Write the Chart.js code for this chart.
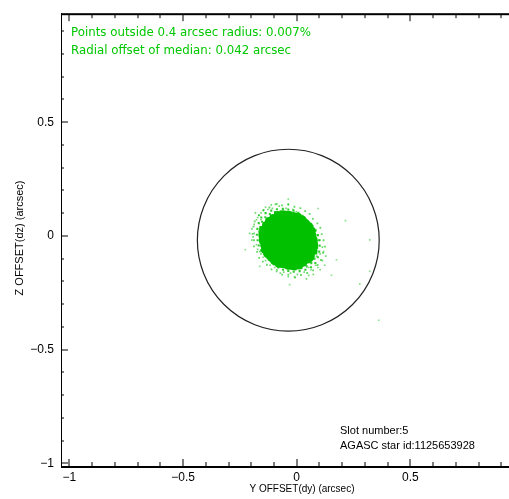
<!DOCTYPE html>
<html><head><meta charset="utf-8">
<script src="https://cdn.jsdelivr.net/npm/chart.js@4.4.1/dist/chart.umd.min.js"></script>
<style>html,body{margin:0;padding:0;overflow:hidden;background:#fff;width:509px;height:499px}</style>
</head><body>
<canvas id="c" width="540" height="499" style="display:block"></canvas>
<script>
// Solid interior of the centroid cloud (arcsec)
const coreCloud = [
  [-0.065,0.075],[-0.037,0.072],[-0.010,0.068],
  [-0.107,0.051],[-0.082,0.051],[-0.047,0.051],[-0.017,0.051],[0.010,0.045],
  [-0.117,0.016],[-0.082,0.016],[-0.047,0.016],[-0.012,0.016],[0.018,0.016],[0.045,0.010],
  [-0.122,-0.019],[-0.087,-0.019],[-0.052,-0.019],[-0.017,-0.019],[0.018,-0.019],[0.048,-0.019],
  [-0.112,-0.054],[-0.077,-0.054],[-0.042,-0.054],[-0.007,-0.054],[0.028,-0.054],[0.052,-0.060],
  [-0.100,-0.085],[-0.077,-0.089],[-0.042,-0.089],[-0.007,-0.089],[0.023,-0.089],[0.048,-0.089],
  [-0.065,-0.110],[-0.037,-0.112],[-0.010,-0.112],[0.015,-0.108]
];
// Outline of the solid region
const coreEdge = [
  [0.075,-0.019],[0.069,0.002],[0.066,0.023],[0.054,0.042],[0.039,0.057],[0.024,0.072],[0.005,0.084],[-0.016,0.087],
  [-0.037,0.093],[-0.060,0.095],[-0.083,0.092],[-0.103,0.079],[-0.122,0.066],[-0.135,0.047],[-0.148,0.027],[-0.151,0.004],
  [-0.149,-0.019],[-0.143,-0.040],[-0.140,-0.061],[-0.128,-0.080],[-0.113,-0.095],[-0.098,-0.110],[-0.079,-0.122],[-0.058,-0.125],
  [-0.037,-0.131],[-0.014,-0.133],[0.009,-0.130],[0.029,-0.117],[0.048,-0.104],[0.061,-0.085],[0.074,-0.065],[0.077,-0.042]
];
// Dense fuzzy fringe just outside the solid region
const fringePoints = [
  [0.098,-0.019],[0.093,0.004],[0.083,0.025],[0.070,0.043],[0.055,0.058],[0.040,0.073],[0.025,0.088],[0.007,0.101],
  [-0.014,0.111],[-0.037,0.116],[-0.061,0.119],[-0.087,0.117],[-0.112,0.111],[-0.137,0.100],[-0.156,0.081],[-0.167,0.056],
  [-0.173,0.031],[-0.175,0.005],[-0.172,-0.019],[-0.167,-0.042],[-0.157,-0.063],[-0.144,-0.081],[-0.129,-0.096],[-0.114,-0.111],
  [-0.099,-0.126],[-0.081,-0.139],[-0.060,-0.149],[-0.037,-0.154],[-0.013,-0.157],[0.013,-0.155],[0.038,-0.149],[0.063,-0.138],
  [0.082,-0.119],[0.093,-0.094],[0.099,-0.069],[0.101,-0.043],
  [0.085,-0.008],[0.077,0.012],[0.066,0.029],[0.053,0.044],[0.039,0.057],[0.026,0.071],[0.011,0.084],[-0.006,0.095],
  [-0.026,0.103],[-0.048,0.106],[-0.071,0.108],[-0.095,0.104],[-0.118,0.096],[-0.138,0.082],[-0.152,0.062],[-0.160,0.039],
  [-0.164,0.015],[-0.162,-0.008],[-0.159,-0.030],[-0.151,-0.050],[-0.140,-0.067],[-0.127,-0.082],[-0.113,-0.095],[-0.100,-0.109],
  [-0.085,-0.122],[-0.068,-0.133],[-0.048,-0.141],[-0.026,-0.144],[-0.003,-0.146],[0.021,-0.142],[0.044,-0.134],[0.064,-0.120],
  [0.078,-0.100],[0.086,-0.077],[0.090,-0.053],[0.088,-0.030]
];
// Outer, thinner part of the fringe
const outerFringe = [
  [0.118,-0.019],[0.110,0.008],[0.104,0.036],[0.091,0.055],[0.071,0.075],[0.057,0.097],[0.037,0.109],[0.016,0.122],
  [-0.010,0.128],[-0.037,0.140],[-0.065,0.134],[-0.093,0.139],[-0.120,0.125],[-0.146,0.114],[-0.166,0.090],[-0.185,0.064],
  [-0.190,0.041],[-0.194,0.009],[-0.188,-0.019],[-0.188,-0.046],[-0.174,-0.070],[-0.165,-0.097],[-0.149,-0.113],[-0.131,-0.127],
  [-0.111,-0.147],[-0.088,-0.156],[-0.064,-0.170],[-0.037,-0.170],[-0.009,-0.180],[0.019,-0.172],[0.046,-0.163],[0.072,-0.152],
  [0.092,-0.128],[0.107,-0.106],[0.116,-0.075],[0.124,-0.047]
];
// Sparse points around the fringe
const haloPoints = [
  [-0.107,0.121],[-0.077,0.131],[-0.047,0.121],[-0.017,0.116],[-0.127,0.116],[-0.087,0.141],[-0.037,0.136],[-0.147,0.111],[-0.112,0.136],[-0.002,0.106],
  [-0.167,0.091],[-0.177,0.071],[-0.157,0.101],[-0.187,0.051],[-0.137,0.126],[-0.172,0.081],[-0.197,0.031],[-0.182,0.101],
  [-0.187,0.011],[-0.197,-0.019],[-0.177,-0.039],[-0.192,-0.004],[-0.207,0.011],[-0.172,-0.059],
  [-0.157,-0.079],[-0.137,-0.109],[-0.147,-0.094],[-0.117,-0.129],[-0.162,-0.069],
  [-0.087,-0.149],[-0.057,-0.159],[-0.027,-0.164],[0.003,-0.169],[-0.072,-0.164],[-0.037,-0.179],[-0.007,-0.184],[-0.097,-0.139],
  [0.033,-0.159],[0.063,-0.149],[0.083,-0.129],[0.053,-0.174],[0.093,-0.139],[0.073,-0.169],[0.113,-0.109],[0.103,-0.149],[0.043,-0.189],[0.123,-0.129],
  [0.103,-0.079],[0.113,-0.049],[0.103,-0.019],[0.118,-0.069],[0.093,0.001],[0.128,-0.089],
  [0.073,0.031],[0.053,0.061],[0.023,0.081],[0.063,0.046],[0.038,0.076],[0.083,0.021],
  [-0.097,0.106],[-0.027,0.106],[-0.157,0.071],[-0.167,0.021],[-0.162,-0.019],[-0.137,-0.069],[-0.077,-0.134],[-0.007,-0.149],[0.053,-0.139],[0.088,-0.089],[0.088,-0.029],[0.063,0.021],[0.013,0.076]
];
// Isolated points far from the core
const outlierPoints = [
  [0.2145,0.0668],[0.3216,-0.0175],[0.3216,-0.156],[0.2775,-0.211],[0.361,-0.371],
  [-0.226,-0.061],[-0.163,-0.134],[-0.031,-0.214],[-0.037,0.1616],[0.094,0.1205],[0.175,-0.105],[0.153,-0.173]
];
const medianPoint = [-0.037, -0.019];
const circleRadius = 0.4;

const xRange = [-1.037, 1.0];
const yRange = [-1.012, 0.975];
const xMajorTicks = [-1, -0.5, 0, 0.5, 1];
const yMajorTicks = [-1, -0.5, 0, 0.5];
const xMinorTicks = [-1.0,-0.9,-0.8,-0.7,-0.6,-0.5,-0.4,-0.3,-0.2,-0.1,0,0.1,0.2,0.3,0.4,0.5,0.6,0.7,0.8,0.9,1.0];
const yMinorTicks = [-1.0,-0.9,-0.8,-0.7,-0.6,-0.5,-0.4,-0.3,-0.2,-0.1,0,0.1,0.2,0.3,0.4,0.5,0.6,0.7,0.8,0.9];

const infoLines = ['Points outside 0.4 arcsec radius: 0.007%', 'Radial offset of median: 0.042 arcsec'];
const slotLines = ['Slot number:5', 'AGASC star id:1125653928'];
const xTitle = 'Y OFFSET(dy) (arcsec)';
const yTitle = 'Z OFFSET(dz) (arcsec)';

const toXY = a => a.map(p => ({x: p[0], y: p[1]}));
const fmt = v => (v < 0 ? '\u2212' + Math.abs(v) : String(v));
const GREEN = 'rgb(0,192,0)';

const decor = {
  id: 'decor',
  afterDatasetsDraw(chart) {
    const {ctx, scales: {x, y}} = chart;
    const cx = x.getPixelForValue(medianPoint[0]);
    const cy = y.getPixelForValue(medianPoint[1]);
    const rx = x.getPixelForValue(medianPoint[0] + circleRadius) - cx;
    const ry = cy - y.getPixelForValue(medianPoint[1] + circleRadius);
    ctx.save();
    ctx.beginPath();
    ctx.ellipse(cx, cy, rx, ry, 0, 0, Math.PI * 2);
    ctx.strokeStyle = '#222';
    ctx.lineWidth = 1.2;
    ctx.stroke();
    ctx.restore();
  },
  afterDraw(chart) {
    const {ctx, chartArea: a, scales: {x, y}} = chart;
    ctx.save();
    ctx.fillStyle = '#000';
    ctx.fillRect(a.left, a.top - 1, a.right - a.left, 2);
    ctx.fillRect(a.left, a.bottom, a.right - a.left, 2);
    ctx.fillRect(a.left, a.top - 1, 1, a.bottom - a.top + 3);
    xMinorTicks.forEach(v => {
      const px = Math.round(x.getPixelForValue(v)) - 0.5;
      const major = xMajorTicks.some(m => Math.abs(m - v) < 1e-9);
      const L = major ? 7 : 4;
      ctx.fillRect(px, a.bottom - L, 1, L);
      ctx.fillRect(px, a.top, 1, L);
    });
    yMinorTicks.forEach(v => {
      const py = Math.round(y.getPixelForValue(v)) - 0.5;
      const major = yMajorTicks.some(m => Math.abs(m - v) < 1e-9);
      const L = major ? 7 : 3;
      ctx.fillRect(a.left, py, L, 1);
      ctx.fillRect(a.right - L, py, L, 1);
    });
    ctx.textBaseline = 'middle';
    ctx.textAlign = 'left';
    ctx.fillStyle = 'rgb(0,200,0)';
    ctx.font = '11.8px "DejaVu Sans"';
    ctx.fillText(infoLines[0], 71, 33);
    ctx.fillText(infoLines[1], 71, 51);
    ctx.fillStyle = '#000';
    ctx.font = '11px "Liberation Sans"';
    ctx.fillText(slotLines[0], 340, 431);
    ctx.fillText(slotLines[1], 340, 446);
    ctx.textAlign = 'center';
    ctx.font = '10px "Liberation Sans"';
    ctx.fillText(xTitle, 302, 489);
    ctx.font = '11px "Liberation Sans"';
    ctx.translate(20, 238);
    ctx.rotate(-Math.PI / 2);
    ctx.fillText(yTitle, 0, 0);
    ctx.restore();
  }
};

new Chart(document.getElementById('c'), {
  type: 'scatter',
  data: {
    datasets: [
      {data: toXY(haloPoints), pointStyle: 'rect', pointRadius: 1.2, backgroundColor: 'rgba(0,192,0,0.55)', borderWidth: 0},
      {data: toXY(outlierPoints), pointStyle: 'rect', pointRadius: 1.2, backgroundColor: 'rgba(0,192,0,0.45)', borderWidth: 0},
      {data: toXY(outerFringe), pointStyle: 'rect', pointRadius: 1.3, backgroundColor: 'rgba(0,192,0,0.6)', borderWidth: 0},
      {data: toXY(fringePoints), pointStyle: 'rect', pointRadius: 1.5, backgroundColor: 'rgba(0,192,0,0.8)', borderWidth: 0},
      {data: toXY(coreEdge), pointStyle: 'circle', pointRadius: 4, backgroundColor: GREEN, borderWidth: 0},
      {data: toXY(coreCloud), pointStyle: 'circle', pointRadius: 7, backgroundColor: GREEN, borderWidth: 0},
      {data: toXY([medianPoint]), pointStyle: 'crossRot', pointRadius: 3, borderColor: '#000', borderWidth: 1.5}
    ]
  },
  options: {
    responsive: false, animation: false, devicePixelRatio: 1,
    layout: {padding: {top: 11, right: 16, left: 0, bottom: 0}},
    plugins: {legend: {display: false}, tooltip: {enabled: false}},
    elements: {point: {hoverRadius: 0}},
    scales: {
      x: {
        type: 'linear', min: xRange[0], max: xRange[1],
        grid: {display: false, drawTicks: false}, border: {display: false},
        afterBuildTicks: s => { s.ticks = xMajorTicks.map(v => ({value: v})); },
        afterFit: s => { s.height = 33; },
        ticks: {padding: 4, autoSkip: false, maxRotation: 0, includeBounds: false, color: '#000',
          font: {family: 'Liberation Sans', size: 12}, callback: v => fmt(v)}
      },
      y: {
        type: 'linear', min: yRange[0], max: yRange[1],
        grid: {display: false, drawTicks: false}, border: {display: false},
        afterBuildTicks: s => { s.ticks = yMajorTicks.map(v => ({value: v})); },
        afterFit: s => { s.width = 61; },
        ticks: {padding: 7, autoSkip: false, includeBounds: false, color: '#000',
          font: {family: 'Liberation Sans', size: 12}, callback: v => fmt(v)}
      }
    }
  },
  plugins: [decor]
});
</script>
</body></html>
